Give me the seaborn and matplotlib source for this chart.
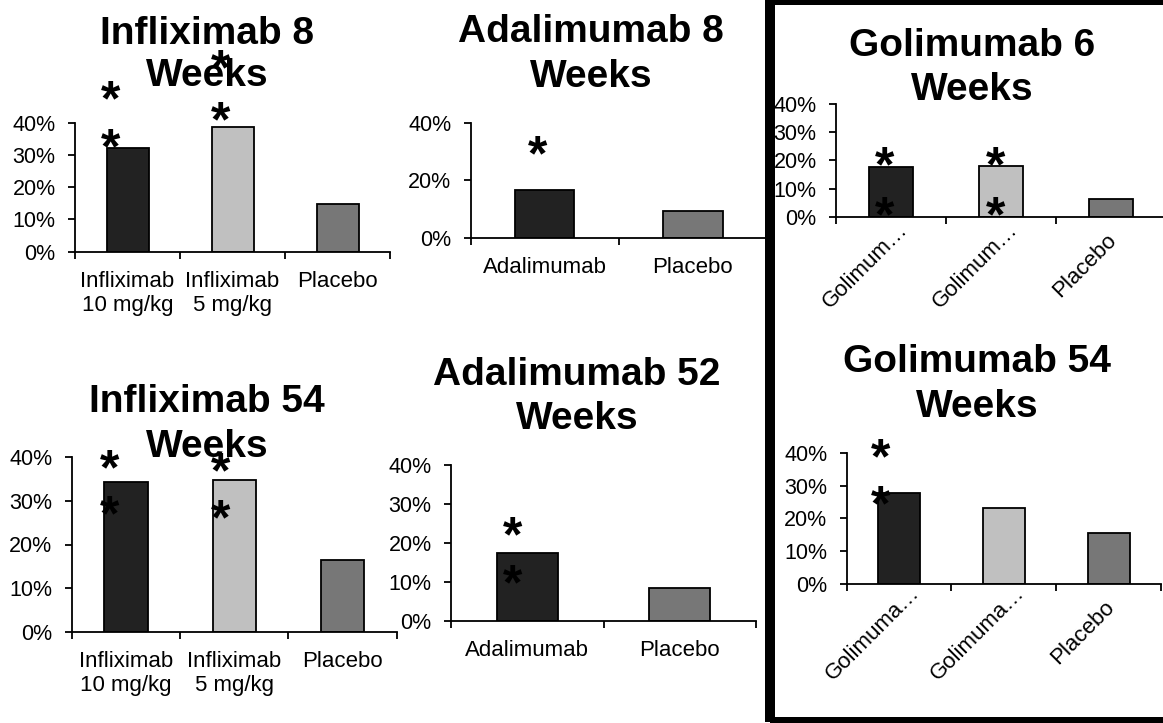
import matplotlib
matplotlib.use("Agg")
import matplotlib.pyplot as plt
import seaborn as sns
import pandas as pd
from matplotlib.patches import Rectangle
from matplotlib.ticker import FixedLocator, FuncFormatter
from matplotlib.transforms import ScaledTranslation

sns.set_theme(style="white")
plt.rcParams["font.family"] = ["Liberation Sans", "DejaVu Sans"]

# ---- remission rates (%) ----
infl_groups = ["Infliximab\n10 mg/kg", "Infliximab\n5 mg/kg", "Placebo"]
infl_week8 = [32.0, 38.8, 14.9]
infl_week54 = [34.4, 34.7, 16.5]

adal_groups = ["Adalimumab", "Placebo"]
adal_week8 = [16.5, 9.3]
adal_week52 = [17.3, 8.5]

goli_groups_induction = ["Golimumab 200/100 mg", "Golimumab 400/200 mg", "Placebo"]
goli_labels_induction = ["Golimum…", "Golimum…", "Placebo"]
goli_week6 = [17.8, 17.9, 6.4]

goli_groups_maint = ["Golimumab 100 mg", "Golimumab 50 mg", "Placebo"]
goli_labels_maint = ["Golimuma…", "Golimuma…", "Placebo"]
goli_week54 = [27.8, 23.2, 15.6]

ticks_10 = [0, 10, 20, 30, 40]
ticks_20 = [0, 20, 40]

DARK, LIGHT, MID = "#222222", "#c0c0c0", "#777777"

W, H = 1163, 723
fig = plt.figure(figsize=(W / 100, H / 100), dpi=100)
fig.patch.set_facecolor("white")


def panel(box, groups, values, colors, yticks, shown=None, rotate=False, stars=()):
    left, right, top, bottom = box
    ax = fig.add_axes([left / W, 1 - bottom / H, (right - left) / W, (bottom - top) / H])
    df = pd.DataFrame({"group": groups, "value": values})
    sns.barplot(data=df, x="group", y="value", hue="group", order=groups,
                hue_order=groups, palette=colors, legend=False, width=0.4,
                saturation=1, edgecolor="black", linewidth=1.3, ax=ax)
    n = len(groups)
    ax.set_xlim(-0.5, n - 0.5)
    ax.set_ylim(0, 40)
    ax.set_xlabel("")
    ax.set_ylabel("")
    ax.set_facecolor("none")
    for side in ("top", "right"):
        ax.spines[side].set_visible(False)
    for side in ("left", "bottom"):
        ax.spines[side].set_color("black")
        ax.spines[side].set_linewidth(1.3)
    ax.yaxis.set_major_locator(FixedLocator(yticks))
    ax.yaxis.set_major_formatter(FuncFormatter(lambda v, _: f"{v:.0f}%"))
    ax.tick_params(axis="y", which="major", left=True, direction="out", length=5,
                   width=1.3, color="black", labelsize=15.5, labelcolor="black", pad=9)
    ax.xaxis.set_minor_locator(FixedLocator([i - 0.5 for i in range(n + 1)]))
    ax.tick_params(axis="x", which="minor", bottom=True, direction="out", length=5,
                   width=1.3, color="black")
    labels = shown if shown is not None else groups
    ax.set_xticks(range(n))
    if rotate:
        # slanted labels, each centred on a point below-left of its category
        ax.tick_params(axis="x", which="major", bottom=False, length=0, labelsize=16,
                       labelcolor="black", pad=0)
        ax.set_xticklabels(labels, rotation=45, ha="center", va="center",
                           rotation_mode="anchor")
        shift = ScaledTranslation(-0.26, -0.49, fig.dpi_scale_trans)
        for lab in ax.get_xticklabels():
            lab.set_transform(lab.get_transform() + shift)
    else:
        ax.tick_params(axis="x", which="major", bottom=False, length=0, labelsize=16,
                       labelcolor="black", pad=14)
        ax.set_xticklabels(labels, linespacing=1.2)
    fs = 36
    for sx, sy in stars:
        ax.annotate("*", (sx, sy), xytext=(0, -0.5 * fs), textcoords="offset points",
                    ha="center", va="baseline", fontsize=fs, fontweight="bold",
                    color="black", annotation_clip=False, clip_on=False)
    return ax


def title(cx, base1, base2, line1, line2):
    for txt, base in ((line1, base1), (line2, base2)):
        fig.text(cx / W, 1 - base / H, txt, ha="center", va="baseline",
                 fontsize=28, fontweight="bold", color="black")


panel((75, 390, 122.7, 251.7), infl_groups, infl_week8, [DARK, LIGHT, MID], ticks_10,
      stars=[(-0.16, 50.0), (-0.16, 35.2), (0.89, 59.5), (0.89, 43.5)])
title(207, 44, 86, "Infliximab 8", "Weeks")

panel((470.7, 767, 122.7, 238), adal_groups, adal_week8, [DARK, MID], ticks_20,
      stars=[(-0.05, 32.3)])
title(591, 41.7, 87.3, "Adalimumab 8", "Weeks")

panel((836, 1166, 104, 216.7), goli_groups_induction, goli_week6, [DARK, LIGHT, MID],
      ticks_10, shown=goli_labels_induction, rotate=True,
      stars=[(-0.06, 21.5), (-0.06, 3.8), (0.95, 21.5), (0.95, 3.8)])
title(972, 56.5, 100, "Golimumab 6", "Weeks")

panel((71.7, 396.7, 457.3, 631.7), infl_groups, infl_week54, [DARK, LIGHT, MID], ticks_10,
      stars=[(-0.15, 39.6), (-0.15, 28.9), (0.87, 38.8), (0.87, 28.1)])
title(207, 411.7, 456.7, "Infliximab 54", "Weeks")

panel((451, 756, 465, 620.7), adal_groups, adal_week52, [DARK, MID], ticks_10,
      stars=[(-0.095, 24.2), (-0.095, 12.0)])
title(577, 385, 429.3, "Adalimumab 52", "Weeks")

panel((846.7, 1161, 452.7, 584), goli_groups_maint, goli_week54, [DARK, LIGHT, MID],
      ticks_10, shown=goli_labels_maint, rotate=True,
      stars=[(-0.18, 41.2), (-0.18, 27.0)])
title(977, 371.7, 417.3, "Golimumab 54", "Weeks")

# heavy frame around the golimumab column
frame = Rectangle((770 / W, 1 / H), 400 / W, (H + 0.5 - 1) / H, transform=fig.transFigure,
                  fill=False, edgecolor="black", linewidth=7.2, zorder=10, clip_on=False)
fig.add_artist(frame)

fig.savefig("out.png", dpi=100, facecolor="white")
